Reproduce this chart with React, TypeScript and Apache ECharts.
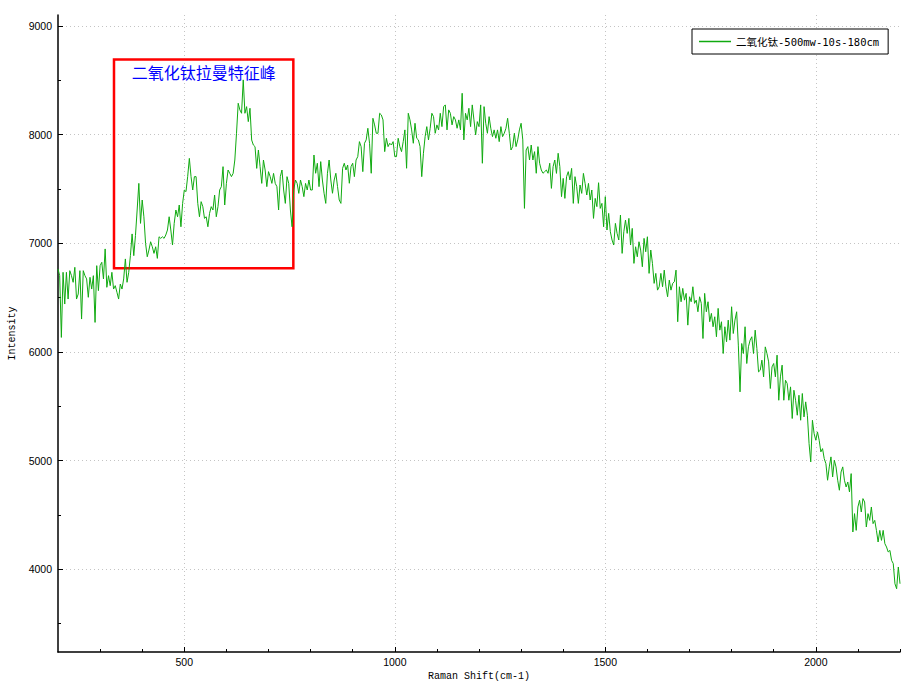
import React, { useEffect, useRef } from 'react';
import * as echarts from 'echarts';

// ---- Data ----
const X_MIN = 200;
const X_MAX = 2200;
const Y_MIN = 3240;
const Y_MAX = 9100;
const SHIFT_STEP = 4; // cm-1 between samples
const SEGMENT_STARTS = [200, 388, 804, 1372, 1868];

const intensityA = [
  6764, 6702, 6134, 6733, 6441, 6733, 6487, 6748, 6702, 6641,
  6779, 6487, 6533, 6748, 6303, 6748, 6702, 6672, 6503, 6687,
  6579, 6702, 6272, 6794, 6564, 6794, 6825, 6672, 6948, 6595,
  6702, 6610, 6733, 6579, 6610, 6549, 6487, 6625, 6579, 6672,
  6856, 6641, 6733, 6886, 7086, 6886, 7071,
];
const intensityB = [
  7306, 7551, 7183, 7398, 7244, 6999, 6876, 6938, 7014, 6968,
  6907, 6968, 6861, 7060, 7045, 7060, 7045, 7076, 7122, 7244,
  7122, 6984, 7183, 7306, 7244, 7352, 7152, 7367, 7490, 7475,
  7613, 7781, 7613, 7490, 7613, 7613, 7367, 7244, 7383, 7337,
  7229, 7244, 7152, 7275, 7337, 7306, 7444, 7244, 7337, 7490,
  7521, 7705, 7352, 7551, 7674, 7643, 7613, 7643, 7766, 8012,
  8288, 8227, 8196, 8503, 8196, 8257, 8119, 8242, 7950, 7904,
  7889, 7689, 7858, 7705, 7551, 7766, 7674, 7521, 7659, 7613,
  7551, 7643, 7551, 7521, 7306, 7613, 7674, 7490, 7367, 7613,
  7551, 7306, 7152, 7490, 7582, 7551, 7459, 7582, 7521, 7429,
  7551, 7490, 7582, 7490,
];
const intensityC = [
  7490, 7812, 7644, 7736, 7521, 7751, 7582, 7460, 7367, 7644,
  7766, 7582, 7460, 7582, 7644, 7521, 7398, 7367, 7690, 7736,
  7674, 7720, 7552, 7705, 7736, 7613, 7766, 7797, 7935, 7889,
  7659, 7920, 7951, 8058, 7920, 7644, 8150, 8089, 8012, 8012,
  8196, 8181, 8135, 7843, 7966, 7889, 7920, 7904, 7935, 7797,
  7797, 7966, 7889, 7843, 7935, 8043, 7690, 8196, 8135, 8043,
  7920, 8104, 7966, 7951, 7889, 7613, 7828, 7981, 8073, 7951,
  8058, 8196, 8165, 8012, 8089, 8043, 8196, 8073, 8257, 8273,
  8043, 8227, 8196, 8089, 8165, 8135, 8058, 8135, 8043, 8380,
  7951, 8196, 8135, 8242, 8073, 8273, 8135, 7997, 8119, 8073,
  8273, 7736, 8257, 8104, 8012, 8165, 8058, 7981, 8043, 7966,
  8043, 7935, 8073, 7981, 8012, 8058, 8150, 8012, 7858, 7889,
  8012, 7889, 7951, 8043, 8104, 7951, 7321, 7858, 7889, 7766,
  7904, 7766, 7843, 7644, 7889, 7736, 7674, 7644, 7659, 7674,
  7644, 7736,
];
const intensityD = [
  7505, 7705, 7766, 7643, 7828, 7705, 7429, 7597, 7413, 7613,
  7659, 7582, 7689, 7367, 7613, 7521, 7367, 7536, 7459, 7643,
  7551, 7444, 7551, 7398, 7490, 7229, 7413, 7337, 7557, 7321,
  7367, 7152, 7429, 7122, 7275, 7106, 7030, 6984, 7183, 7091,
  7030, 7260, 6907, 7106, 7214, 7091, 7229, 6984, 7137, 6815,
  6968, 6876, 7014, 6938, 6784, 7045, 6922, 7060, 6723, 6938,
  6815, 6631, 6723, 6569, 6600, 6723, 6600, 6753, 6600, 6508,
  6661, 6569, 6631, 6646, 6753, 6278, 6600, 6462, 6585, 6477,
  6539, 6247, 6508, 6462, 6600, 6447, 6477, 6370, 6508, 6447,
  6124, 6539, 6370, 6462, 6278, 6355, 6232, 6324, 6140, 6401,
  6201, 6278, 5986, 6232, 6094, 6293, 6109, 6416, 6170, 6293,
  6370, 6063, 5633, 6078, 5986, 6232, 5894, 6048, 6109, 6140,
  5986, 6201, 6032, 5817,
];
const intensityE = [
  5832, 5925, 5771, 6047, 5986, 5909, 5664, 5863, 5894, 5771,
  5971, 5556, 5771, 5879, 5556, 5740, 5710, 5556, 5679, 5388,
  5648, 5556, 5418, 5602, 5372, 5618, 5403, 5541, 5418, 5157,
  4989, 5372, 5249, 5188, 5265, 5188, 5081, 5111, 5019, 4973,
  4820, 4943, 5035, 4850, 5004, 4943, 4820, 4728, 4896, 4943,
  4820, 4758, 4804, 4712, 4881, 4344, 4513, 4359, 4574, 4636,
  4528, 4651, 4620, 4390, 4513, 4451, 4574, 4421, 4451, 4359,
  4252, 4359, 4267, 4359, 4237, 4206, 4160, 4175, 4083, 4053,
  3868, 3822, 4022, 3868,
];
const SEGMENTS = [intensityA, intensityB, intensityC, intensityD, intensityE];

const X_LABEL_TICKS = [500, 1000, 1500, 2000];
const X_MINOR_TICKS = [300, 400, 600, 700, 800, 900, 1100, 1200, 1300, 1400, 1600, 1700, 1800, 1900, 2100, 2200];
const Y_LABEL_TICKS = [4000, 5000, 6000, 7000, 8000, 9000];
const Y_MINOR_TICKS = [3500, 4500, 5500, 6500, 7500, 8500];

const SERIES_NAME = '二氧化钛-500mw-10s-180cm';
const PEAK_BOX_X = [333, 759];
const PEAK_BOX_Y = [8690, 6770];
const PEAK_BOX_LABEL = '二氧化钛拉曼特征峰';

const X_NAME = 'Raman Shift(cm-1)';
const Y_NAME = 'Intensity';

export default function App() {
  const ref = useRef<HTMLDivElement>(null);

  useEffect(() => {
    if (!ref.current) return;
    const chart = echarts.init(ref.current, undefined, { renderer: 'svg' });

    const data: [number, number][] = [];
    SEGMENTS.forEach((seg, s) => {
      seg.forEach((v, i) => data.push([SEGMENT_STARTS[s] + i * SHIFT_STEP, v]));
    });

    const tickFont = "'Liberation Sans', Arial, sans-serif";
    const nameFont = "'Liberation Mono', 'Courier New', monospace";
    const grey = { color: '#c4c4c4', type: [1, 3] as any, width: 1 };
    const lineColor = '#10aa10';

    const option: any = {
      animation: false,
      backgroundColor: '#ffffff',
      grid: { left: 58, right: 12, top: 15, bottom: 30, outerBoundsMode: 'none', containLabel: false },
      legend: {
        show: true,
        left: 692,
        top: 29,
        orient: 'horizontal',
        padding: [6, 9, 6, 7],
        icon: 'rect',
        itemWidth: 32,
        itemHeight: 1.5,
        itemGap: 0,
        itemStyle: { color: lineColor, borderWidth: 0 },
        backgroundColor: '#ffffff',
        borderColor: '#000000',
        borderWidth: 1,
        borderRadius: 0,
        selectedMode: false,
        textStyle: {
          color: '#000000',
          fontSize: 10.5,
          lineHeight: 13,
          fontFamily: "'DejaVu Sans Mono', 'Noto Sans CJK SC', monospace",
        },
        data: [{ name: SERIES_NAME }],
      },
      xAxis: [
        {
          type: 'value',
          min: X_MIN,
          max: X_MAX,
          position: 'bottom',
          name: X_NAME,
          nameLocation: 'middle',
          nameGap: 18,
          nameTextStyle: { fontFamily: nameFont, fontSize: 10, color: '#000' },
          axisLine: { show: true, onZero: false, lineStyle: { color: '#000', width: 1.5 } },
          axisTick: { show: true, inside: true, length: 5, customValues: X_LABEL_TICKS, lineStyle: { color: '#000', width: 1 } },
          axisLabel: {
            show: true,
            customValues: X_LABEL_TICKS,
            color: '#000',
            fontSize: 10.5,
            fontFamily: tickFont,
            margin: 4,
            formatter: (v: number) => String(v),
          },
          splitLine: { show: true, lineStyle: grey },
        },
        {
          type: 'value',
          min: X_MIN,
          max: X_MAX,
          position: 'bottom',
          axisLine: { show: false, onZero: false },
          axisTick: { show: true, inside: true, length: 3, customValues: X_MINOR_TICKS, lineStyle: { color: '#000', width: 1 } },
          axisLabel: { show: false },
          splitLine: { show: false },
        },
      ],
      yAxis: [
        {
          type: 'value',
          min: Y_MIN,
          max: Y_MAX,
          position: 'left',
          name: Y_NAME,
          nameLocation: 'middle',
          nameGap: 39,
          nameTextStyle: { fontFamily: nameFont, fontSize: 10, color: '#000' },
          axisLine: { show: true, onZero: false, lineStyle: { color: '#000', width: 1.5 } },
          axisTick: { show: true, inside: true, length: 5, customValues: Y_LABEL_TICKS, lineStyle: { color: '#000', width: 1 } },
          axisLabel: {
            show: true,
            customValues: Y_LABEL_TICKS,
            color: '#000',
            fontSize: 10.5,
            fontFamily: tickFont,
            margin: 6,
            formatter: (v: number) => String(v),
          },
          splitLine: { show: true, lineStyle: grey },
        },
        {
          type: 'value',
          min: Y_MIN,
          max: Y_MAX,
          position: 'left',
          axisLine: { show: false, onZero: false },
          axisTick: { show: true, inside: true, length: 3, customValues: Y_MINOR_TICKS, lineStyle: { color: '#000', width: 1 } },
          axisLabel: { show: false },
          splitLine: { show: false },
        },
      ],
      series: [
        {
          type: 'line',
          name: SERIES_NAME,
          xAxisIndex: 0,
          yAxisIndex: 0,
          data,
          symbol: 'none',
          showSymbol: false,
          silent: true,
          lineStyle: { color: lineColor, width: 1 },
          itemStyle: { color: lineColor },
          emphasis: { disabled: true },
          markArea: {
            silent: true,
            itemStyle: { color: 'rgba(0,0,0,0)', borderColor: '#ff0000', borderWidth: 2.5 },
            label: {
              show: true,
              position: 'insideTop',
              distance: 6,
              color: '#0000ff',
              fontSize: 16,
              fontFamily: "'Noto Sans CJK SC', sans-serif",
            },
            emphasis: { disabled: true },
            data: [
              [
                { name: PEAK_BOX_LABEL, xAxis: PEAK_BOX_X[0], yAxis: PEAK_BOX_Y[0] },
                { xAxis: PEAK_BOX_X[1], yAxis: PEAK_BOX_Y[1] },
              ],
            ],
          },
        },
      ],
    };

    chart.setOption(option);
    return () => chart.dispose();
  }, []);

  return (
    <div
      ref={ref}
      style={{ position: 'absolute', left: 0, top: 0, width: 912, height: 682, background: '#fff' }}
    />
  );
}
